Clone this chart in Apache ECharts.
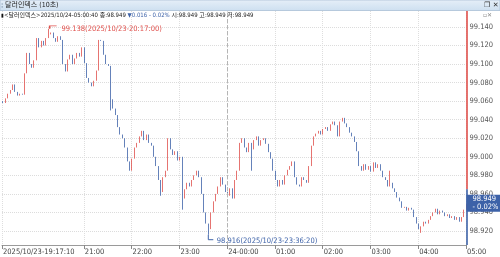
<!DOCTYPE html>
<html><head><meta charset="utf-8">
<script src="https://cdn.jsdelivr.net/npm/echarts@6/dist/echarts.min.js"></script>
<style>html,body{margin:0;padding:0;background:#fff}#c{width:500px;height:257px}</style>
</head><body><div id="c"></div>
<script>
// ---- data (3-minute buckets from 19:17:10) ----
const startTime = '2025-10-23T19:17:10';
const endTime = '2025-10-24T05:00:40';
const bucketSeconds = 180;
const firstOpen = 99.060;
const closes = [
99.058,99.063,99.068,99.072,99.078,99.070,99.066,99.068,99.067,99.090,
99.112,99.100,99.096,99.104,99.128,99.118,99.125,99.120,99.128,99.132,
99.134,99.128,99.124,99.130,99.126,99.100,99.092,99.105,99.110,99.100,
99.106,99.112,99.108,99.118,99.101,99.085,99.080,99.076,99.082,99.093,
99.126,99.125,99.110,99.100,99.098,99.062,99.052,99.045,99.032,99.024,
99.020,99.010,98.995,98.985,98.998,99.010,99.015,99.022,99.028,99.018,
99.024,99.015,99.012,99.000,98.990,98.975,98.962,98.978,98.985,99.020,
99.008,99.002,99.006,98.996,99.000,98.955,98.965,98.972,98.968,98.975,
98.980,98.985,98.978,98.960,98.940,98.928,98.922,98.940,98.952,98.960,
98.968,98.978,98.970,98.962,98.958,98.966,98.955,98.975,98.985,99.015,
99.020,99.010,99.005,99.015,99.008,99.018,99.022,99.012,99.018,99.020,
99.014,99.005,98.998,98.985,98.975,98.968,98.975,98.970,98.980,98.986,
98.990,98.995,98.978,98.970,98.968,98.978,98.975,98.972,98.990,99.012,
99.022,99.025,99.028,99.024,99.030,99.032,99.028,99.035,99.038,99.034,
99.022,99.038,99.042,99.036,99.032,99.026,99.022,99.016,99.006,98.990,
98.985,98.992,98.986,98.990,98.984,98.994,98.988,98.992,98.985,98.978,
98.975,98.968,98.972,98.966,98.962,98.956,98.952,98.945,98.946,98.942,
98.945,98.943,98.935,98.928,98.922,98.925,98.930,98.928,98.932,98.936,
98.940,98.944,98.938,98.942,98.940,98.936,98.938,98.934,98.936,98.932,
98.935,98.930,98.935,98.943,98.949];
// [bucket index, low, high] wick extremes seen in the picture
const wickExtremes = [[19,null,99.138],[45,99.050,null],[66,98.958,null],[75,98.943,null],
  [86,98.916,null],[104,98.985,null],[162,null,98.985],[175,98.918,null]];
const yTicks = [98.920,98.940,98.960,98.980,99.000,99.020,99.040,99.060,99.080,99.100,99.120,99.140];
const xTickTimes = ['2025-10-23T19:17:10','2025-10-23T21:00:00','2025-10-23T22:00:00','2025-10-23T23:00:00',
  '2025-10-24T00:00:00','2025-10-24T01:00:00','2025-10-24T02:00:00','2025-10-24T03:00:00','2025-10-24T04:00:00','2025-10-24T05:00:00'];
const xTickLabels = ['2025/10/23-19:17:10','21:00','22:00','23:00','24-00:00','01:00','02:00','03:00','04:00','05:00'];
const dateBoundary = '2025-10-24T00:00:00';
const lastPrice = 98.949;
const prevClose = 98.965;
const change = -0.016;
const changePct = -0.02;
const highPoint = {time:'2025-10-23T20:17:00', value:99.138, text:'99.138(2025/10/23-20:17:00)'};
const lowPoint = {time:'2025-10-23T23:36:20', value:98.916, text:'98.916(2025/10/23-23:36:20)'};
const yMin = 98.9049, yMax = 99.1572;

// ---- build ----
const T = s => Date.parse(s + 'Z');
const t0 = T(startTime), tEnd = T(endTime);
const ext = {};
wickExtremes.forEach(e => { ext[e[0]] = e; });
const candles = closes.map((c, i) => {
  const o = i === 0 ? firstOpen : closes[i - 1];
  let lo = Math.min(o, c), hi = Math.max(o, c);
  const e = ext[i];
  if (e) { if (e[1] != null) lo = Math.min(lo, e[1]); if (e[2] != null) hi = Math.max(hi, e[2]); }
  return [t0 + i * bucketSeconds * 1000 + bucketSeconds * 500, o, c, lo, hi];
});
const xTickVals = xTickTimes.map(T);
const labelOf = {};
xTickVals.forEach((v, i) => labelOf[v] = xTickLabels[i]);

const RED = '#e0504c', BLUE = '#3d62a8';
const FONT = '"Liberation Sans Narrow", "DejaVu Sans Condensed", "Noto Sans CJK KR", sans-serif';
const chart = echarts.init(document.getElementById('c'), null, {renderer: 'canvas'});
const sign = change < 0 ? '▼' : '▲';
const pctStr = (changePct < 0 ? '- ' : '+ ') + Math.abs(changePct).toFixed(2) + '%';
chart.setOption({
  animation: false,
  grid: {left: 0, right: 33.5, top: 11, bottom: 12},
  xAxis: {
    type: 'value', min: t0, max: tEnd, scale: true,
    axisLine: {show: true, lineStyle: {color: '#9a9a9a', width: 1}},
    axisTick: {show: true, length: 4, customValues: xTickVals, lineStyle: {color: '#888'}},
    axisLabel: {customValues: xTickVals, formatter: v => labelOf[v] || '', align: 'left', margin: 3,
      fontSize: 7.5, color: '#444', fontFamily: FONT, padding: [0,0,0,1]},
    splitLine: {show: true, lineStyle: {color: '#dedede', type: 'dotted', width: 1}}
  },
  yAxis: {
    type: 'value', position: 'right', min: yMin, max: yMax, scale: true,
    axisLine: {show: false}, axisTick: {show: false, customValues: yTicks},
    axisLabel: {customValues: yTicks, formatter: v => v.toFixed(3), fontSize: 7.5, color: '#555',
      fontFamily: FONT, margin: 3},
    splitLine: {show: true, lineStyle: {color: '#dcdcdc', type: 'dotted', width: 1}}
  },
  series: [{
    type: 'candlestick', data: candles, clip: false, barWidth: 1.2,
    itemStyle: {color: RED, color0: BLUE, borderColor: RED, borderColor0: BLUE, borderWidth: 0.8},
    markLine: {
      silent: true, symbol: 'none', animation: false, z: 10,
      data: [
        [{coord: [T(dateBoundary), yMin], lineStyle: {color: '#b5b5b5', type: 'dashed', width: 1}},
         {coord: [T(dateBoundary), yMax]}],
        [{coord: [tEnd, yMax], lineStyle: {color: RED, type: 'solid', width: 1.6}}, {coord: [tEnd, prevClose]}],
        [{coord: [tEnd, prevClose], lineStyle: {color: BLUE, type: 'solid', width: 1.6}}, {coord: [tEnd, yMin]}],
        {yAxis: lastPrice, lineStyle: {width: 0, color: 'rgba(0,0,0,0)'},
         label: {show: true, position: 'end', distance: 0, formatter: lastPrice.toFixed(3) + '\n' + pctStr,
           backgroundColor: BLUE, color: '#fff', fontSize: 7.5, lineHeight: 8, padding: [1, 4, 0, 6],
           fontFamily: FONT}}
      ],
      label: {show: false}
    },
    markPoint: {
      silent: true, animation: false,
      data: [
        {coord: [T(highPoint.time), highPoint.value], symbol: 'path://M0,4 L0,0 L8,0', symbolSize: [7, 3],
         symbolOffset: [3.5, -1.5], itemStyle: {color: 'none', borderColor: RED, borderWidth: 1},
         label: {show: true, position: 'right', distance: 1, offset: [0, 1.5], formatter: highPoint.text, color: RED,
           fontSize: 7.5, fontFamily: FONT}},
        {coord: [T(lowPoint.time), lowPoint.value], symbol: 'path://M0,0 L0,5 L5,5', symbolSize: [5, 5],
         symbolOffset: [2.5, 2.5], itemStyle: {color: 'none', borderColor: BLUE, borderWidth: 1},
         label: {show: true, position: 'right', distance: 1, offset: [0, 3.5], formatter: lowPoint.text, color: BLUE,
           fontSize: 7.5, fontFamily: FONT}}
      ]
    }
  }],
  graphic: [
    {type: 'rect', shape: {x: 0, y: 0, width: 500, height: 10.5}, z: 100,
     style: {fill: new echarts.graphic.LinearGradient(0, 0, 0, 1, [{offset: 0, color: '#e6eff8'}, {offset: 1, color: '#cddff0'}]),
       stroke: '#a9bfd6', lineWidth: 0.8}},
    {type: 'text', x: 1, y: 5.3, z: 101, style: {text: '⁞', fill: '#7a8ea5', fontSize: 8, verticalAlign: 'middle'}},
    {type: 'text', x: 5, y: 5.5, z: 101, style: {text: '달러인덱스 (10초)', fill: '#222', fontSize: 7,
      fontFamily: FONT, verticalAlign: 'middle'}},
    {type: 'text', x: 484, y: 5.5, z: 101, style: {text: '❐ ✕', fill: '#333', fontSize: 7, fontWeight: 'bold',
      fontFamily: '"DejaVu Sans", sans-serif', verticalAlign: 'middle'}},
    {type: 'text', x: 1, y: 15.5, z: 101, style: {
      text: '{k|▮}{a|<달러인덱스>2025/10/24-05:00:40 종:' + lastPrice.toFixed(3) + ' }{b|' + sign + Math.abs(change).toFixed(3) + ' ' + pctStr + '}{a| 시:98.949 고:98.949 저:98.949}',
      verticalAlign: 'middle', fontSize: 6, fontFamily: FONT,
      rich: {k: {fill: '#111', fontSize: 5}, a: {fill: '#222', fontSize: 6, fontFamily: FONT}, b: {fill: BLUE, fontSize: 6, fontFamily: FONT}}}},
    {type: 'text', x: 483, y: 15.5, z: 101, style: {text: '▫✕', fill: '#888', fontSize: 6,
      fontFamily: '"DejaVu Sans", sans-serif', verticalAlign: 'middle'}}
  ]
});
</script></body></html>
